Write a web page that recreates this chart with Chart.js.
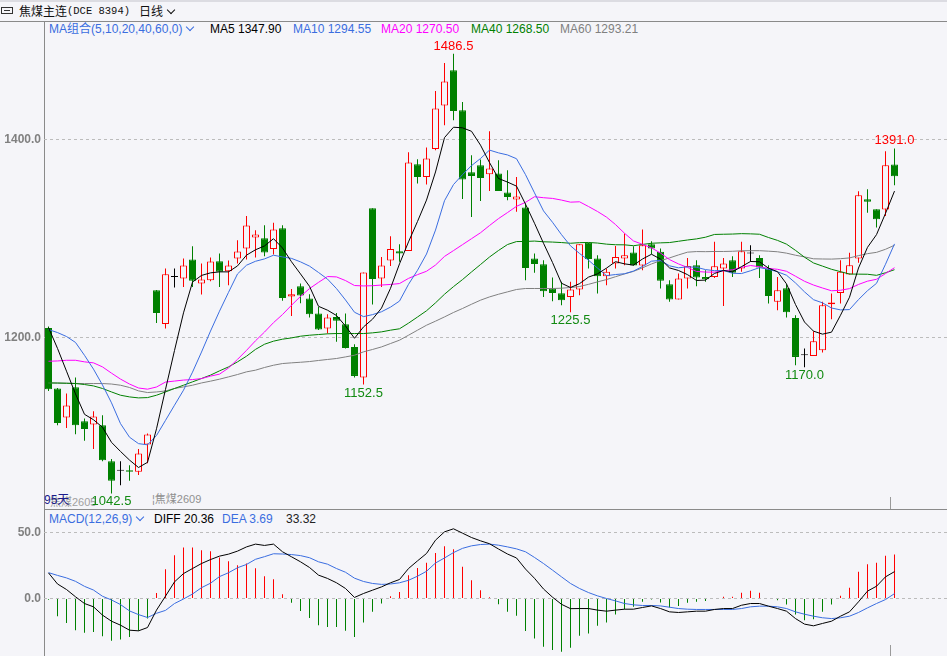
<!DOCTYPE html>
<html><head><meta charset="utf-8">
<script src="https://cdn.jsdelivr.net/npm/chart.js@4.4.0/dist/chart.umd.min.js"></script>
<style>
html,body{margin:0;padding:0;background:#f5f5f9;width:947px;height:656px;overflow:hidden;position:relative;font-family:"Liberation Sans","Noto Sans CJK SC",sans-serif;}
.t{position:absolute;white-space:nowrap;font-size:12px;line-height:14px;}
.ln{position:absolute;background:#8a8a8a;}
.chev{display:inline-block;width:5px;height:5px;border-right:1.4px solid currentColor;border-bottom:1.4px solid currentColor;transform:rotate(45deg);margin-left:5px;position:relative;top:-3px;}
.pane{position:absolute;left:0;width:947px;}
.pane canvas{display:block;}
.pk{position:absolute;font-size:13px;line-height:14px;white-space:nowrap;transform:translate(-50%,-50%);}
</style></head><body>

<div class="ln" style="left:0;top:0;width:947px;height:2px;background:#dcdce2"></div>
<div class="ln" style="left:0;top:21px;width:947px;height:1px"></div>
<div class="ln" style="left:44px;top:21px;width:1px;height:635px"></div>
<div class="ln" style="left:44px;top:509px;width:903px;height:1px"></div>
<div class="ln" style="left:890px;top:497px;width:1px;height:12px;background:#9a9a9a"></div>
<div class="ln" style="left:890px;top:645px;width:1px;height:11px;background:#9a9a9a"></div>

<div class="t" style="left:1px;top:7px;width:5px;height:5px;border:1px solid #333;border-right:none"></div>
<div class="t" style="left:7px;top:7px;width:5px;height:5px;border:1px solid #333;border-left:none"></div>
<div class="t" style="left:4px;top:10px;width:6px;height:1px;background:#333"></div>
<div class="t" style="left:19px;top:4px;font-family:'Noto Sans CJK SC';color:#111">焦煤主连</div>
<div class="t" style="left:67px;top:4px;font-family:'Liberation Mono';font-size:10.5px;color:#111">(DCE 8394)</div>
<div class="t" style="left:139px;top:4px;font-family:'Noto Sans CJK SC';color:#111">日线<span class="chev"></span></div>

<div class="t" style="left:49px;top:22px;color:#3a6de0">MA组合(5,10,20,40,60,0)<span class="chev"></span></div>
<div class="t" style="left:210px;top:22px;color:#000">MA5 1347.90</div>
<div class="t" style="left:293px;top:22px;color:#3a6de0">MA10 1294.55</div>
<div class="t" style="left:381px;top:22px;color:#ff00ff">MA20 1270.50</div>
<div class="t" style="left:471px;top:22px;color:#008000">MA40 1268.50</div>
<div class="t" style="left:560px;top:22px;color:#808080">MA60 1293.21</div>

<div class="t" style="left:50px;top:495px;font-size:11px;color:#a0a0a0">焦煤2605</div>
<div class="t" style="left:44px;top:493px;color:#1c1c8c">95天</div>
<div class="t" style="left:152px;top:492px;font-size:11px;color:#909090">¦焦煤2609</div>

<div class="t" style="left:49px;top:512px;color:#3a6de0">MACD(12,26,9)<span class="chev"></span></div>
<div class="t" style="left:154px;top:512px;color:#000">DIFF 20.36</div>
<div class="t" style="left:222px;top:512px;color:#3a6de0">DEA 3.69</div>
<div class="t" style="left:286px;top:512px;color:#222">33.32</div>

<div class="pane" style="top:22px;height:487px"><canvas id="cMain" width="947" height="487"></canvas></div>
<div class="pane" style="top:510px;height:146px"><canvas id="cMacd" width="947" height="146"></canvas></div>

<script>
const candleOpen = [1209.7,1148.5,1119.2,1149.8,1115.5,1112.1,1111.4,1075.0,1065.3,1066.0,
1064.3,1091.9,1247.8,1213.7,1261.2,1259.6,1278.8,1254.5,1257.9,1277.1,
1267.0,1279.8,1289.9,1301.0,1300.3,1289.5,1310.4,1241.4,1251.8,1239.4,
1224.2,1209.1,1220.8,1213.4,1190.5,1159.6,1330.6,1259.6,1277.8,1287.2,
1287.5,1375.0,1362.2,1390.5,1434.3,1470.0,1429.6,1367.0,1374.0,1365.0,
1365.7,1346.5,1339.4,1331.3,1279.8,1274.0,1249.5,1244.7,1241.0,1248.5,
1295.6,1279.8,1261.9,1274.7,1279.8,1285.9,1272.7,1294.2,1286.5,1253.8,
1238.4,1259.6,1273.0,1261.2,1261.2,1269.7,1278.1,1269.7,1284.8,1280.4,
1269.7,1236.0,1249.8,1219.8,1182.1,1181.4,1187.2,1233.6,1245.0,1263.6,
1279.8,1339.7,1329.6,1329.3,1374.7];
const candleHigh = [1211.0,1149.0,1143.4,1159.6,1118.2,1125.6,1121.5,1077.4,1075.0,1071.0,
1087.5,1103.0,1248.0,1269.7,1269.7,1279.8,1292.2,1274.7,1280.8,1284.8,
1277.8,1298.3,1322.8,1308.4,1313.4,1315.8,1313.4,1249.1,1254.5,1243.7,
1230.9,1223.5,1224.8,1224.2,1193.2,1265.7,1330.6,1281.4,1302.3,1294.2,
1387.2,1380.1,1391.9,1449.1,1477.4,1486.5,1438.0,1384.1,1379.8,1408.4,
1379.1,1369.0,1362.2,1335.4,1284.8,1278.1,1260.6,1256.2,1256.2,1294.2,
1295.6,1283.1,1269.7,1292.5,1305.0,1292.2,1309.1,1297.3,1289.9,1257.9,
1264.6,1280.4,1278.1,1268.0,1296.6,1280.4,1282.1,1296.6,1293.2,1283.1,
1273.0,1261.2,1253.8,1222.5,1188.9,1206.4,1236.0,1244.4,1278.1,1285.5,
1347.8,1349.8,1329.6,1388.2,1391.0];
const candleLow = [1146.0,1111.4,1108.7,1102.3,1095.6,1087.5,1075.0,1042.5,1050.8,1055.2,
1061.0,1073.0,1214.7,1209.1,1250.5,1251.1,1251.1,1243.4,1256.9,1251.1,
1252.8,1274.7,1278.8,1280.8,1282.1,1283.8,1237.0,1221.8,1234.6,1220.2,
1207.5,1204.0,1195.6,1188.9,1159.6,1152.5,1233.3,1251.1,1272.3,1276.4,
1287.5,1355.6,1354.5,1389.2,1414.4,1419.5,1340.0,1321.8,1338.0,1348.1,
1348.1,1338.7,1326.9,1257.9,1265.3,1241.0,1236.7,1232.6,1225.5,1242.7,
1269.7,1244.4,1252.8,1269.7,1273.0,1272.7,1268.0,1284.1,1249.5,1236.0,
1238.4,1249.5,1251.8,1256.2,1260.2,1231.9,1261.2,1266.3,1276.4,1260.2,
1234.3,1227.6,1220.2,1172.0,1170.0,1181.4,1184.8,1218.5,1234.3,1263.6,
1275.4,1325.9,1311.1,1322.8,1353.8];
const candleClose = [1147.8,1113.7,1131.3,1111.4,1107.7,1120.2,1076.1,1055.2,1065.3,1064.3,
1082.8,1102.0,1224.8,1263.9,1261.2,1272.7,1257.2,1258.6,1276.8,1266.3,
1272.7,1286.9,1313.1,1304.0,1285.9,1309.1,1240.0,1243.7,1242.4,1223.5,
1208.1,1220.2,1216.8,1189.5,1161.2,1265.7,1259.2,1272.7,1289.5,1284.8,
1376.8,1362.2,1380.8,1431.3,1458.6,1428.9,1359.6,1363.2,1361.2,1370.7,
1348.1,1342.0,1342.4,1270.3,1274.3,1246.8,1245.0,1237.7,1248.5,1294.2,
1279.4,1261.9,1266.3,1281.4,1283.1,1272.7,1293.2,1289.9,1257.2,1238.4,
1259.6,1272.3,1260.6,1258.9,1272.0,1274.7,1265.3,1287.2,1284.8,1270.7,
1242.0,1247.8,1225.6,1180.4,1182.1,1196.3,1232.6,1235.4,1266.3,1273.0,
1343.7,1337.0,1319.5,1374.0,1362.9];

const ma5 = [1210,1189,1166,1143,1122.4,1116.9,1109.3,1094.1,1084.9,1076.2,
1068.7,1073.9,1107.8,1147.6,1186.9,1224.9,1256.0,1262.7,1265.3,1266.3,
1266.3,1272.3,1283.2,1288.6,1292.5,1299.8,1290.4,1276.5,1264.2,1251.7,
1231.5,1227.6,1222.2,1211.6,1199.2,1210.7,1218.5,1229.7,1249.7,1274.4,
1296.6,1317.2,1338.8,1367.2,1401.9,1412.4,1411.8,1408.3,1394.3,1376.7,
1360.6,1357.0,1352.9,1334.7,1315.4,1295.2,1275.8,1254.8,1250.5,1254.4,
1261.0,1264.3,1270.1,1276.6,1274.4,1273.1,1279.3,1284.1,1279.2,1270.3,
1267.7,1263.5,1257.6,1258.0,1264.7,1267.7,1266.3,1271.6,1276.8,1276.5,
1270.0,1266.5,1254.2,1233.3,1215.6,1206.4,1203.4,1205.4,1222.5,1240.7,
1270.2,1291.1,1303.9,1325.4,1347.9];
const ma10 = [1208,1205,1201,1195,1182,1168,1152,1134,1113,
1099.3,1092.8,1091.6,1101.0,1116.3,1131.6,1146.8,1165.0,1185.3,1206.5,
1226.6,1245.6,1264.2,1273.0,1277.0,1279.4,1283.1,1281.4,1279.9,1276.4,
1272.1,1265.7,1259.0,1249.4,1237.9,1225.5,1221.1,1223.1,1226.0,1230.7,
1236.8,1253.7,1267.9,1284.3,1308.5,1338.2,1354.5,1364.5,1373.6,1380.8,
1389.3,1386.5,1384.4,1380.6,1364.5,1346.1,1327.9,1316.4,1303.9,1292.6,
1284.9,1278.1,1270.1,1262.5,1263.6,1264.4,1267.1,1271.8,1277.1,1277.9,
1272.4,1270.4,1271.4,1270.9,1268.6,1267.5,1267.7,1264.9,1264.6,1267.4,
1270.6,1268.9,1266.4,1262.9,1255.1,1246.1,1238.2,1235.0,1229.8,1227.9,
1228.2,1238.3,1247.3,1254.7,1274.0,1294.55];
const ma20 = [1176,1176.3,1177,1177,1175.4,1174.4,1170.3,1164,1158,1153,
1149,1147.8,1150,1155,1156,1157,1157.5,1158.5,1161,
1163.0,1169.2,1177.9,1187.0,1196.7,1205.5,1215.0,1223.2,1232.6,1241.5,
1249.4,1255.7,1261.6,1261.2,1257.5,1252.5,1252.1,1252.3,1253.0,1253.6,
1254.5,1259.7,1263.5,1266.9,1273.2,1281.9,1287.8,1293.8,1299.8,1305.8,
1313.1,1320.1,1326.2,1332.5,1336.5,1342.2,1341.2,1340.5,1338.8,1336.7,
1337.1,1332.3,1327.3,1321.6,1314.1,1305.3,1297.5,1294.1,1290.5,1285.3,
1278.7,1274.3,1270.8,1266.7,1266.1,1266.0,1267.4,1268.4,1270.9,1272.7,
1271.5,1269.7,1268.9,1266.9,1261.9,1256.8,1253.0,1250.0,1247.2,1247.7,
1249.4,1253.6,1256.9,1258.8,1264.6,1270.5];
const ma40 = [1154.1,1154,1153.8,1153.5,1152.5,1151.1,1148.5,1145,1141.7,1140,
1139,1139.3,1141.7,1145,1148.5,1151.8,1155.2,1158.6,1162,1166.3,
1170.3,1175.4,1181.1,1188,1193.2,1196.3,1198.3,1199.6,1201.3,1202.3,
1203,1203.7,1204,1204,1204,1204,1204.7,1205.7,1207.4,
1208.8,1214.5,1220.7,1227.0,1235.0,1243.7,1251.4,1258.5,1266.2,1273.7,
1281.3,1287.9,1293.9,1296.9,1297.0,1297.4,1296.7,1296.4,1295.9,1295.2,
1295.8,1296.0,1295.4,1294.3,1293.7,1293.6,1292.7,1294.0,1295.2,1295.6,
1295.9,1297.2,1298.5,1299.6,1301.3,1304.1,1304.3,1304.5,1304.9,1304.7,
1304.3,1301.0,1298.1,1294.3,1288.0,1281.1,1275.3,1272.1,1268.9,1266.5,
1264.1,1264.0,1263.9,1262.8,1265.4,1268.5];
const ma60 = [1154.1,1154,1153.8,1153.6,1153.5,1153.5,1153.5,1153,1151.8,1149.5,
1146.1,1144.4,1145,1146,1148.5,1150.1,1151.8,1154.1,1155.9,1157.9,
1160.2,1162.6,1165.3,1167,1169.7,1172,1173.7,1174.4,1175,1175.7,
1176.8,1177.8,1178.8,1180.4,1182.1,1185.5,1187.9,1190.5,1193.9,1197.3,
1202.3,1207.4,1212.4,1216.5,1220.8,1225.3,1229.3,1233.6,1237.7,1241,
1243.7,1246.1,1248.5,1249.5,1249.5,1249.5,1249.5,1249.8,1250.5,
1251.5,1253.7,1256.2,1258.5,1261.4,1264.2,1266.8,1270.4,1274.3,1277.6,
1280.4,1283.4,1286.2,1286.8,1286.7,1286.9,1286.9,1287.1,1287.6,1287.7,
1287.7,1287.2,1286.6,1285.2,1283.1,1281.4,1279.5,1279.3,1279.2,1279.6,
1280.4,1282.7,1284.7,1286.0,1289.1,1293.21];

const macdDiff = [19.4,11.0,6.8,1.3,-3.8,-6.3,-12.6,-17.2,-20.2,-24.0,
-24.5,-22.0,-8.8,1.8,12.6,18.9,22.7,26.5,29.5,32.1,
33.6,35.9,39.1,41.2,40.2,41.2,35.4,31.6,27.8,23.5,
17.7,15.2,11.9,7.6,0.8,3.8,6.3,8.8,11.9,14.4,
22.7,28.5,34.1,44.2,50.5,52.8,49.5,46.2,43.7,41.5,
37.5,33.7,30.7,22.3,15.3,7.2,1.0,-4.4,-7.7,-7.6,
-7.6,-8.8,-9.6,-8.8,-8.1,-8.1,-6.8,-5.6,-7.6,-10.1,
-10.6,-10.1,-9.6,-9.6,-8.3,-7.6,-7.6,-5.1,-3.8,-3.8,
-5.8,-7.6,-9.6,-15.2,-19.4,-20.7,-18.9,-17.2,-13.4,-10.1,
-2.5,5.6,9.3,16.4,20.36];
const macdDea = [19.6,17.5,15.6,13.0,9.2,6.4,1.7,-1.1,-4.6,-9.4,
-12.2,-14.4,-11.2,-9.0,-3.8,-0.4,3.4,8.2,11.6,16.6,
19.5,23.3,25.8,29.7,31.7,33.9,33.7,33.3,32.5,30.9,
27.8,26.0,22.7,19.9,15.4,12.9,11.4,10.7,11.0,11.9,
13.8,16.9,20.6,26.9,30.7,34.8,38.0,39.9,40.9,41.2,
40.4,39.1,37.6,35.4,31.1,26.5,21.5,16.4,11.4,7.6,
4.5,2.0,0.0,-1.8,-3.8,-4.8,-5.3,-5.3,-5.6,-6.6,
-7.6,-8.1,-8.3,-8.3,-8.3,-8.3,-8.3,-7.6,-6.3,-5.8,
-5.8,-6.3,-7.6,-10.1,-11.9,-13.4,-14.6,-15.2,-14.6,-13.4,
-10.6,-7.1,-3.8,-0.8,3.69];
const macdHist = [-1.0,-13.4,-18.5,-24.0,-26.0,-25.3,-28.6,-32.1,-31.1,-29.1,
-24.5,-15.2,4.2,22.2,32.8,38.6,38.6,36.6,35.8,31.0,
28.2,25.2,26.5,22.9,16.9,14.6,3.3,-3.3,-9.4,-14.7,
-20.2,-21.5,-21.5,-24.5,-29.1,-18.2,-10.1,-3.8,1.7,5.0,
17.7,23.2,27.0,34.5,39.6,37.4,24.0,13.9,6.3,1.0,
-4.3,-10.1,-13.1,-24.7,-30.3,-36.6,-39.1,-40.4,-37.4,-28.3,
-26.5,-20.7,-18.2,-12.1,-8.1,-6.3,-2.5,-0.8,-3.0,-6.8,
-5.6,-3.3,-2.5,-1.8,0.0,1.3,1.3,4.3,5.8,4.3,
0.0,-1.3,-4.5,-12.1,-16.4,-15.7,-10.1,-4.5,2.0,8.1,
20.2,26.0,27.0,32.3,33.32];

const priceTicks = [1200, 1400];
const macdTicks = [0, 50];
const highMarks = [45, 94];
const lowMarks = [7, 35, 58, 84];

const BG = '#f5f5f9', UP = '#ff0000', DOWN = '#008000', FLAT = '#000000';
const idx = candleClose.map((_, i) => i);
const candleColor = idx.map(i => candleClose[i] > candleOpen[i] ? UP : (candleClose[i] < candleOpen[i] ? DOWN : FLAT));
const bodyFill = idx.map(i => candleClose[i] > candleOpen[i] ? BG : candleColor[i]);

const xScale = { type: 'linear', display: false, min: -0.5, max: 99.833, offset: false, grid: { display: false } };
const tickFont = { family: 'Liberation Sans', size: 12, weight: 'bold' };
function yAxis(min, max, ticks) {
  return {
    position: 'left', min, max,
    afterFit(s) { s.width = 44; s.paddingTop = 0; s.paddingBottom = 0; },
    afterBuildTicks(s) { s.ticks = ticks.map(v => ({ value: v })); },
    ticks: { callback: v => Number(v).toFixed(1), font: tickFont, color: '#808080', padding: 3 },
    grid: { color: '#bcbcbc', lineWidth: 1, drawTicks: false },
    border: { display: false, dash: [3, 3] }
  };
}
function lineDs(arr, color) {
  return { type: 'line', data: idx.map(i => ({ x: i, y: arr[i] })), borderColor: color, borderWidth: 1,
    pointRadius: 0, tension: 0, fill: false, order: 0 };
}
const baseOpts = {
  responsive: false, animation: false, events: [], devicePixelRatio: 1,
  layout: { padding: 0 },
  plugins: { legend: { display: false }, tooltip: { enabled: false } }
};

const mainChart = new Chart(document.getElementById('cMain'), {
  type: 'bar',
  data: { datasets: [
    lineDs(ma5, '#000000'),
    lineDs(ma10, '#3a6de0'),
    lineDs(ma20, '#ff00ff'),
    lineDs(ma40, '#008000'),
    lineDs(ma60, '#808080'),
    { type: 'bar', data: idx.map(i => ({ x: i, y: [candleOpen[i], candleClose[i]] })),
      backgroundColor: bodyFill, borderColor: candleColor, borderWidth: 1, borderSkipped: false,
      barThickness: 7, minBarLength: 1, grouped: false, inflateAmount: 0, order: 1 },
    { type: 'bar', data: idx.map(i => ({ x: i, y: [candleLow[i], candleHigh[i]] })),
      backgroundColor: candleColor, borderWidth: 0, barThickness: 1, grouped: false, inflateAmount: 0, order: 2 }
  ]},
  options: Object.assign({}, baseOpts, {
    scales: { x: xScale, y: yAxis(1026.77, 1518.69, priceTicks) }
  })
});

new Chart(document.getElementById('cMacd'), {
  type: 'bar',
  data: { datasets: [
    lineDs(macdDiff, '#000000'),
    lineDs(macdDea, '#3a6de0'),
    { type: 'bar', data: idx.map(i => ({ x: i, y: macdHist[i] })),
      backgroundColor: macdHist.map(v => v >= 0 ? UP : DOWN), borderWidth: 0,
      barThickness: 1, grouped: false, inflateAmount: 0, order: 1 }
  ]},
  options: Object.assign({}, baseOpts, {
    scales: { x: xScale, y: yAxis(-43.56, 67.05, macdTicks) }
  })
});

// high / low value marks as real text, positioned through the chart scales
(function () {
  const xs = mainChart.scales.x, ys = mainChart.scales.y, area = mainChart.chartArea;
  const top = 22;
  function put(i, v, isHigh) {
    const d = document.createElement('div');
    d.className = 'pk';
    d.textContent = v.toFixed(1);
    d.style.color = isHigh ? '#ff0000' : '#118a11';
    let py = ys.getPixelForValue(v) + (isHigh ? -8 : 8);
    py = Math.min(py, area.bottom - 8);
    d.style.left = xs.getPixelForValue(i) + 'px';
    d.style.top = (top + py) + 'px';
    document.body.appendChild(d);
  }
  highMarks.forEach(i => put(i, candleHigh[i], true));
  lowMarks.forEach(i => put(i, candleLow[i], false));
})();
</script>
</body></html>
